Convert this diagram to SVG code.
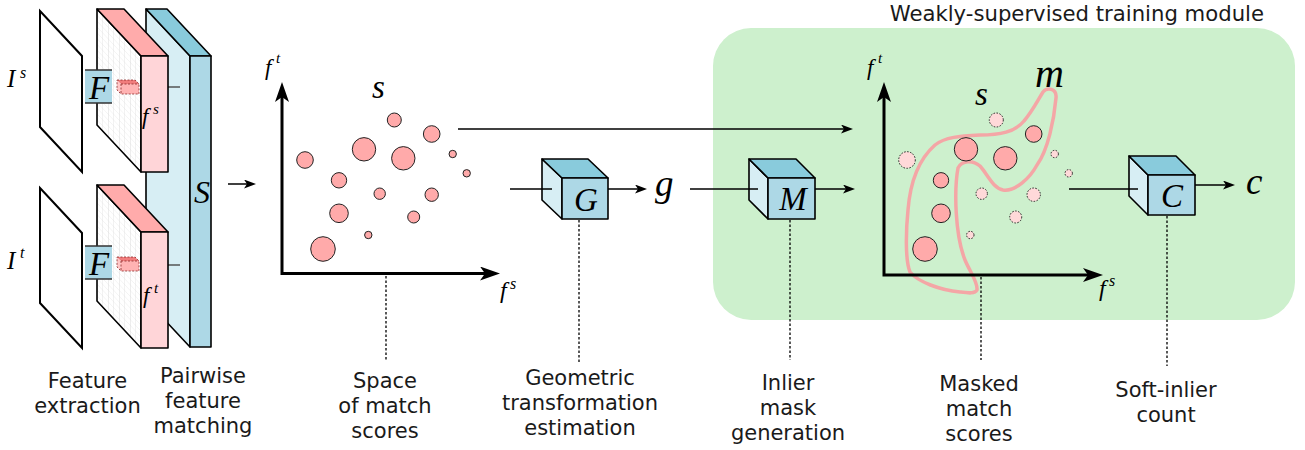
<svg xmlns="http://www.w3.org/2000/svg" width="1305" height="450" viewBox="0 0 1305 450">
<defs>
<style>
.lbl{font-family:"DejaVu Sans","Liberation Sans",sans-serif;font-size:21px;fill:#1a1a1a;text-anchor:middle}
.title{font-family:"DejaVu Sans","Liberation Sans",sans-serif;font-size:21.2px;fill:#1a1a1a;text-anchor:end}
.math{font-family:"Liberation Serif","DejaVu Serif",serif;font-style:italic;fill:#000}
.mid{text-anchor:middle}
.edge{stroke:#000;stroke-width:1.6;stroke-linejoin:round}
.front{fill:#add8e6}
.top{fill:#89cbdc}
.side{fill:#d7eef4}
.pfront{fill:#ffd5d8}
.ptop{fill:#ffabab}
.plane{fill:#fff;stroke:#000;stroke-width:2}
.conn{stroke:#000;stroke-width:1.5;fill:none}
.arr{marker-end:url(#ah)}
.axis{stroke:#000;stroke-width:3;fill:none;marker-start:url(#axh);marker-end:url(#axh)}
.dot{stroke:#000;stroke-width:1.3;stroke-dasharray:2.5 2;fill:none}
.score{fill:#ffaaaa;stroke:#222;stroke-width:1}
.masked{fill:#ffd9d9;stroke:#222;stroke-width:1;stroke-dasharray:1.5 1.5}
.mask{fill:none;stroke:#f4a6a6;stroke-width:3.5}
.tick{stroke:#555;stroke-width:1.5}
.fbar{stroke:#8a2a2a;stroke-width:0.8;stroke-dasharray:2 1.5}
</style>
<marker id="ah" markerUnits="userSpaceOnUse" markerWidth="12" markerHeight="9" viewBox="0 0 12 9" refX="6" refY="4.5" orient="auto"><path d="M0,0 L12,4.5 L0,9 L3,4.5 Z" fill="#000"/></marker>
<marker id="axh" markerUnits="userSpaceOnUse" markerWidth="20" markerHeight="14" viewBox="0 0 20 14" refX="10" refY="7" orient="auto-start-reverse"><path d="M0,0 L20,7 L0,14 L5,7 Z" fill="#000"/></marker>
<pattern id="gridS" patternUnits="userSpaceOnUse" width="5.5" height="5.8" patternTransform="translate(97,9) skewY(46.9)"><rect width="5.5" height="5.8" fill="#fff"/><path d="M0,0 H5.5 M0,0 V5.8" stroke="#d2d2d2" stroke-width="0.7"/></pattern>
<pattern id="gridT" patternUnits="userSpaceOnUse" width="5.5" height="5.8" patternTransform="translate(97,185) skewY(46.9)"><rect width="5.5" height="5.8" fill="#fff"/><path d="M0,0 H5.5 M0,0 V5.8" stroke="#d2d2d2" stroke-width="0.7"/></pattern>
</defs>
<rect width="1305" height="450" fill="#fff"/>

<g id="module-bg">
<rect x="713" y="28" width="582" height="292" rx="38" fill="#cdf0cd"/>
<text class="title" x="1264" y="21">Weakly-supervised training module</text>
</g>

<g id="node-S">
<polygon class="side edge" points="146,9 190,56 190,347 146,300"/>
<polygon class="top edge" points="146,9 167,9 211,56 190,56"/>
<rect class="front edge" x="190" y="56" width="21" height="291"/>
<line class="tick" x1="168" y1="87" x2="180" y2="87"/>
<line class="tick" x1="168" y1="265" x2="180" y2="265"/>
<text class="math mid" x="202" y="203" font-size="32">S</text>
</g>

<g id="node-Is">
<polygon class="plane" points="40,11 82,56 82,172 40,127"/>
<text class="math" x="7" y="87" font-size="25">I</text>
<text class="math" x="20" y="78" font-size="16">s</text>
</g>
<g id="node-It">
<polygon class="plane" points="40,188 82,233 82,348 40,303"/>
<text class="math" x="7" y="269" font-size="25">I</text>
<text class="math" x="20" y="258" font-size="16">t</text>
</g>

<g id="node-fs">
<polygon class="edge" fill="url(#gridS)" points="97,9 141,56 141,172 97,125"/>
<polygon class="ptop edge" points="97,9 124,9 168,56 141,56"/>
<rect class="pfront edge" x="141" y="56" width="27" height="116"/>
<polygon fill="#ffc6c6" points="117,80 121,84 121,94 117,90"/>
<polygon fill="#f07c7c" points="117,80 135,80 139,84 121,84"/>
<rect fill="#ffb3b3" x="121" y="84" width="18" height="10"/>
<path class="fbar" fill="none" d="M117,80 H135 L139,84 V94 H121 L117,90 Z M121,84 H139 M121,84 V94"/>
<text class="math" x="142" y="124" font-size="23">f</text>
<text class="math" x="153" y="114" font-size="15">s</text>
</g>
<g id="node-ft">
<polygon class="edge" fill="url(#gridT)" points="97,185 141,232 141,348 97,301"/>
<polygon class="ptop edge" points="97,185 124,185 168,232 141,232"/>
<rect class="pfront edge" x="141" y="232" width="27" height="116"/>
<polygon fill="#ffc6c6" points="117,257 121,261 121,271 117,267"/>
<polygon fill="#f07c7c" points="117,257 135,257 139,261 121,261"/>
<rect fill="#ffb3b3" x="121" y="261" width="18" height="10"/>
<path class="fbar" fill="none" d="M117,257 H135 L139,261 V271 H121 L117,267 Z M121,261 H139 M121,261 V271"/>
<text class="math" x="143" y="303" font-size="23">f</text>
<text class="math" x="154" y="293" font-size="15">t</text>
</g>

<g id="node-F1">
<rect class="front" x="85" y="70" width="27" height="33"/>
<line x1="85" y1="70" x2="112" y2="70" stroke="#333" stroke-width="1.5"/>
<line x1="85" y1="103" x2="112" y2="103" stroke="#333" stroke-width="1.5"/>
<text class="math mid" x="99" y="99" font-size="33">F</text>
</g>
<g id="node-F2">
<rect class="front" x="85" y="246" width="27" height="33"/>
<line x1="85" y1="246" x2="112" y2="246" stroke="#333" stroke-width="1.5"/>
<line x1="85" y1="279" x2="112" y2="279" stroke="#333" stroke-width="1.5"/>
<text class="math mid" x="99" y="275" font-size="33">F</text>
</g>

<g id="node-scores">
<path class="axis" d="M282,92 L282,273.5 L490,273.5"/>
<text class="math" x="265" y="75" font-size="23">f</text>
<text class="math" x="276" y="63" font-size="15">t</text>
<text class="math" x="500" y="298" font-size="24">f</text>
<text class="math" x="510" y="289" font-size="16">s</text>
<text class="math" x="372" y="98" font-size="33">s</text>
<circle class="score" cx="394.3" cy="120" r="7"/>
<circle class="score" cx="431.7" cy="134" r="8.3"/>
<circle class="score" cx="364" cy="149.3" r="11.7"/>
<circle class="score" cx="403.3" cy="158.3" r="11.7"/>
<circle class="score" cx="305" cy="160" r="8.3"/>
<circle class="score" cx="452.7" cy="154" r="3.7"/>
<circle class="score" cx="466.7" cy="173.3" r="3.7"/>
<circle class="score" cx="339" cy="180.3" r="7.7"/>
<circle class="score" cx="379.7" cy="193.7" r="5.7"/>
<circle class="score" cx="431.7" cy="194.7" r="6.7"/>
<circle class="score" cx="339" cy="213.3" r="9.3"/>
<circle class="score" cx="413.7" cy="217" r="6"/>
<circle class="score" cx="368.3" cy="235" r="3.7"/>
<circle class="score" cx="323" cy="249" r="12.3"/>
</g>

<g id="node-G">
<polygon class="side edge" points="542,159 562,178 562,219 542,200"/>
<polygon class="top edge" points="542,159 588,159 608,178 562,178"/>
<rect class="front edge" x="562" y="178" width="46" height="41"/>
<text class="math mid" x="586" y="211" font-size="33">G</text>
</g>
<g id="node-g">
<text class="math" x="655" y="196" font-size="37">g</text>
</g>

<g id="node-M">
<polygon class="side edge" points="749,159 768,178 768,219 749,200"/>
<polygon class="top edge" points="749,159 796,159 815,178 768,178"/>
<rect class="front edge" x="768" y="178" width="47" height="41"/>
<text class="math mid" x="793" y="210" font-size="33">M</text>
</g>

<g id="node-masked">
<path class="mask" d="M1043,92 C1047,87 1057,88 1056,98 C1054,120 1048,150 1037,165 C1030,178 1015,192 1003,190 C993,188 988,175 980,166 C973,160 962,160 958,168 C954,190 955,235 965,260 C970,272 978,282 977,290 C975,294 968,293 960,292 C940,290 918,282 910,272 C905,260 906,230 908,210 C910,185 918,160 935,145 C945,137 960,136 980,135 C1000,135 1015,132 1024,121 C1032,112 1038,100 1043,92 Z"/>
<path class="axis" d="M884,92 L884,275 L1093,275"/>
<text class="math" x="867" y="75" font-size="23">f</text>
<text class="math" x="878" y="63" font-size="15">t</text>
<text class="math" x="1099" y="296" font-size="24">f</text>
<text class="math" x="1109" y="286" font-size="16">s</text>
<text class="math" x="975" y="105" font-size="33">s</text>
<text class="math" x="1035" y="87" font-size="40">m</text>
<circle class="masked" cx="996.3" cy="120" r="7"/>
<circle class="masked" cx="907" cy="160" r="8.3"/>
<circle class="masked" cx="1054.7" cy="154" r="3.7"/>
<circle class="masked" cx="1068.7" cy="173.3" r="3.7"/>
<circle class="masked" cx="981.7" cy="193.7" r="5.7"/>
<circle class="masked" cx="1033.7" cy="194.7" r="6.7"/>
<circle class="masked" cx="1015.7" cy="217" r="6"/>
<circle class="masked" cx="970.3" cy="235" r="3.7"/>
<circle class="score" cx="966" cy="149.3" r="11.7"/>
<circle class="score" cx="1005.3" cy="158.3" r="11.7"/>
<circle class="score" cx="1033.7" cy="134" r="8.3"/>
<circle class="score" cx="941" cy="180.3" r="7.7"/>
<circle class="score" cx="941" cy="213.3" r="9.3"/>
<circle class="score" cx="925" cy="249" r="12.3"/>
</g>

<g id="node-C">
<polygon class="side edge" points="1129,156 1148,175 1148,215 1129,196"/>
<polygon class="top edge" points="1129,156 1176,156 1195,175 1148,175"/>
<rect class="front edge" x="1148" y="175" width="47" height="40"/>
<text class="math mid" x="1172" y="207" font-size="33">C</text>
</g>
<g id="node-c">
<text class="math" x="1246" y="194" font-size="37">c</text>
</g>

<g id="connectors">
<line class="conn arr" x1="228" y1="184" x2="250" y2="184"/>
<line class="conn arr" x1="458" y1="129" x2="847" y2="129"/>
<line class="conn" x1="510" y1="189" x2="552" y2="189"/>
<line class="conn arr" x1="608" y1="189" x2="641" y2="189"/>
<line class="conn" x1="690" y1="189" x2="758" y2="189"/>
<line class="conn arr" x1="815" y1="189" x2="849" y2="189"/>
<line class="conn" x1="1069" y1="189" x2="1138" y2="189"/>
<line class="conn arr" x1="1195" y1="185" x2="1229" y2="185"/>
<line class="dot" x1="386" y1="276" x2="386" y2="360"/>
<line class="dot" x1="579" y1="220" x2="579" y2="362"/>
<line class="dot" x1="790" y1="220" x2="790" y2="360"/>
<line class="dot" x1="981" y1="277" x2="981" y2="360"/>
<line class="dot" x1="1167" y1="216" x2="1167" y2="366"/>
</g>

<g id="labels">
<text class="lbl" x="87.5" y="388">Feature</text>
<text class="lbl" x="87.5" y="413">extraction</text>
<text class="lbl" x="203" y="383">Pairwise</text>
<text class="lbl" x="203" y="408">feature</text>
<text class="lbl" x="203" y="433">matching</text>
<text class="lbl" x="385" y="388">Space</text>
<text class="lbl" x="385" y="413">of match</text>
<text class="lbl" x="385" y="438">scores</text>
<text class="lbl" x="580" y="385">Geometric</text>
<text class="lbl" x="580" y="410">transformation</text>
<text class="lbl" x="580" y="435">estimation</text>
<text class="lbl" x="788" y="390">Inlier</text>
<text class="lbl" x="788" y="415">mask</text>
<text class="lbl" x="788" y="440">generation</text>
<text class="lbl" x="979" y="391">Masked</text>
<text class="lbl" x="979" y="416">match</text>
<text class="lbl" x="979" y="441">scores</text>
<text class="lbl" x="1166" y="397">Soft-inlier</text>
<text class="lbl" x="1166" y="422">count</text>
</g>
</svg>
